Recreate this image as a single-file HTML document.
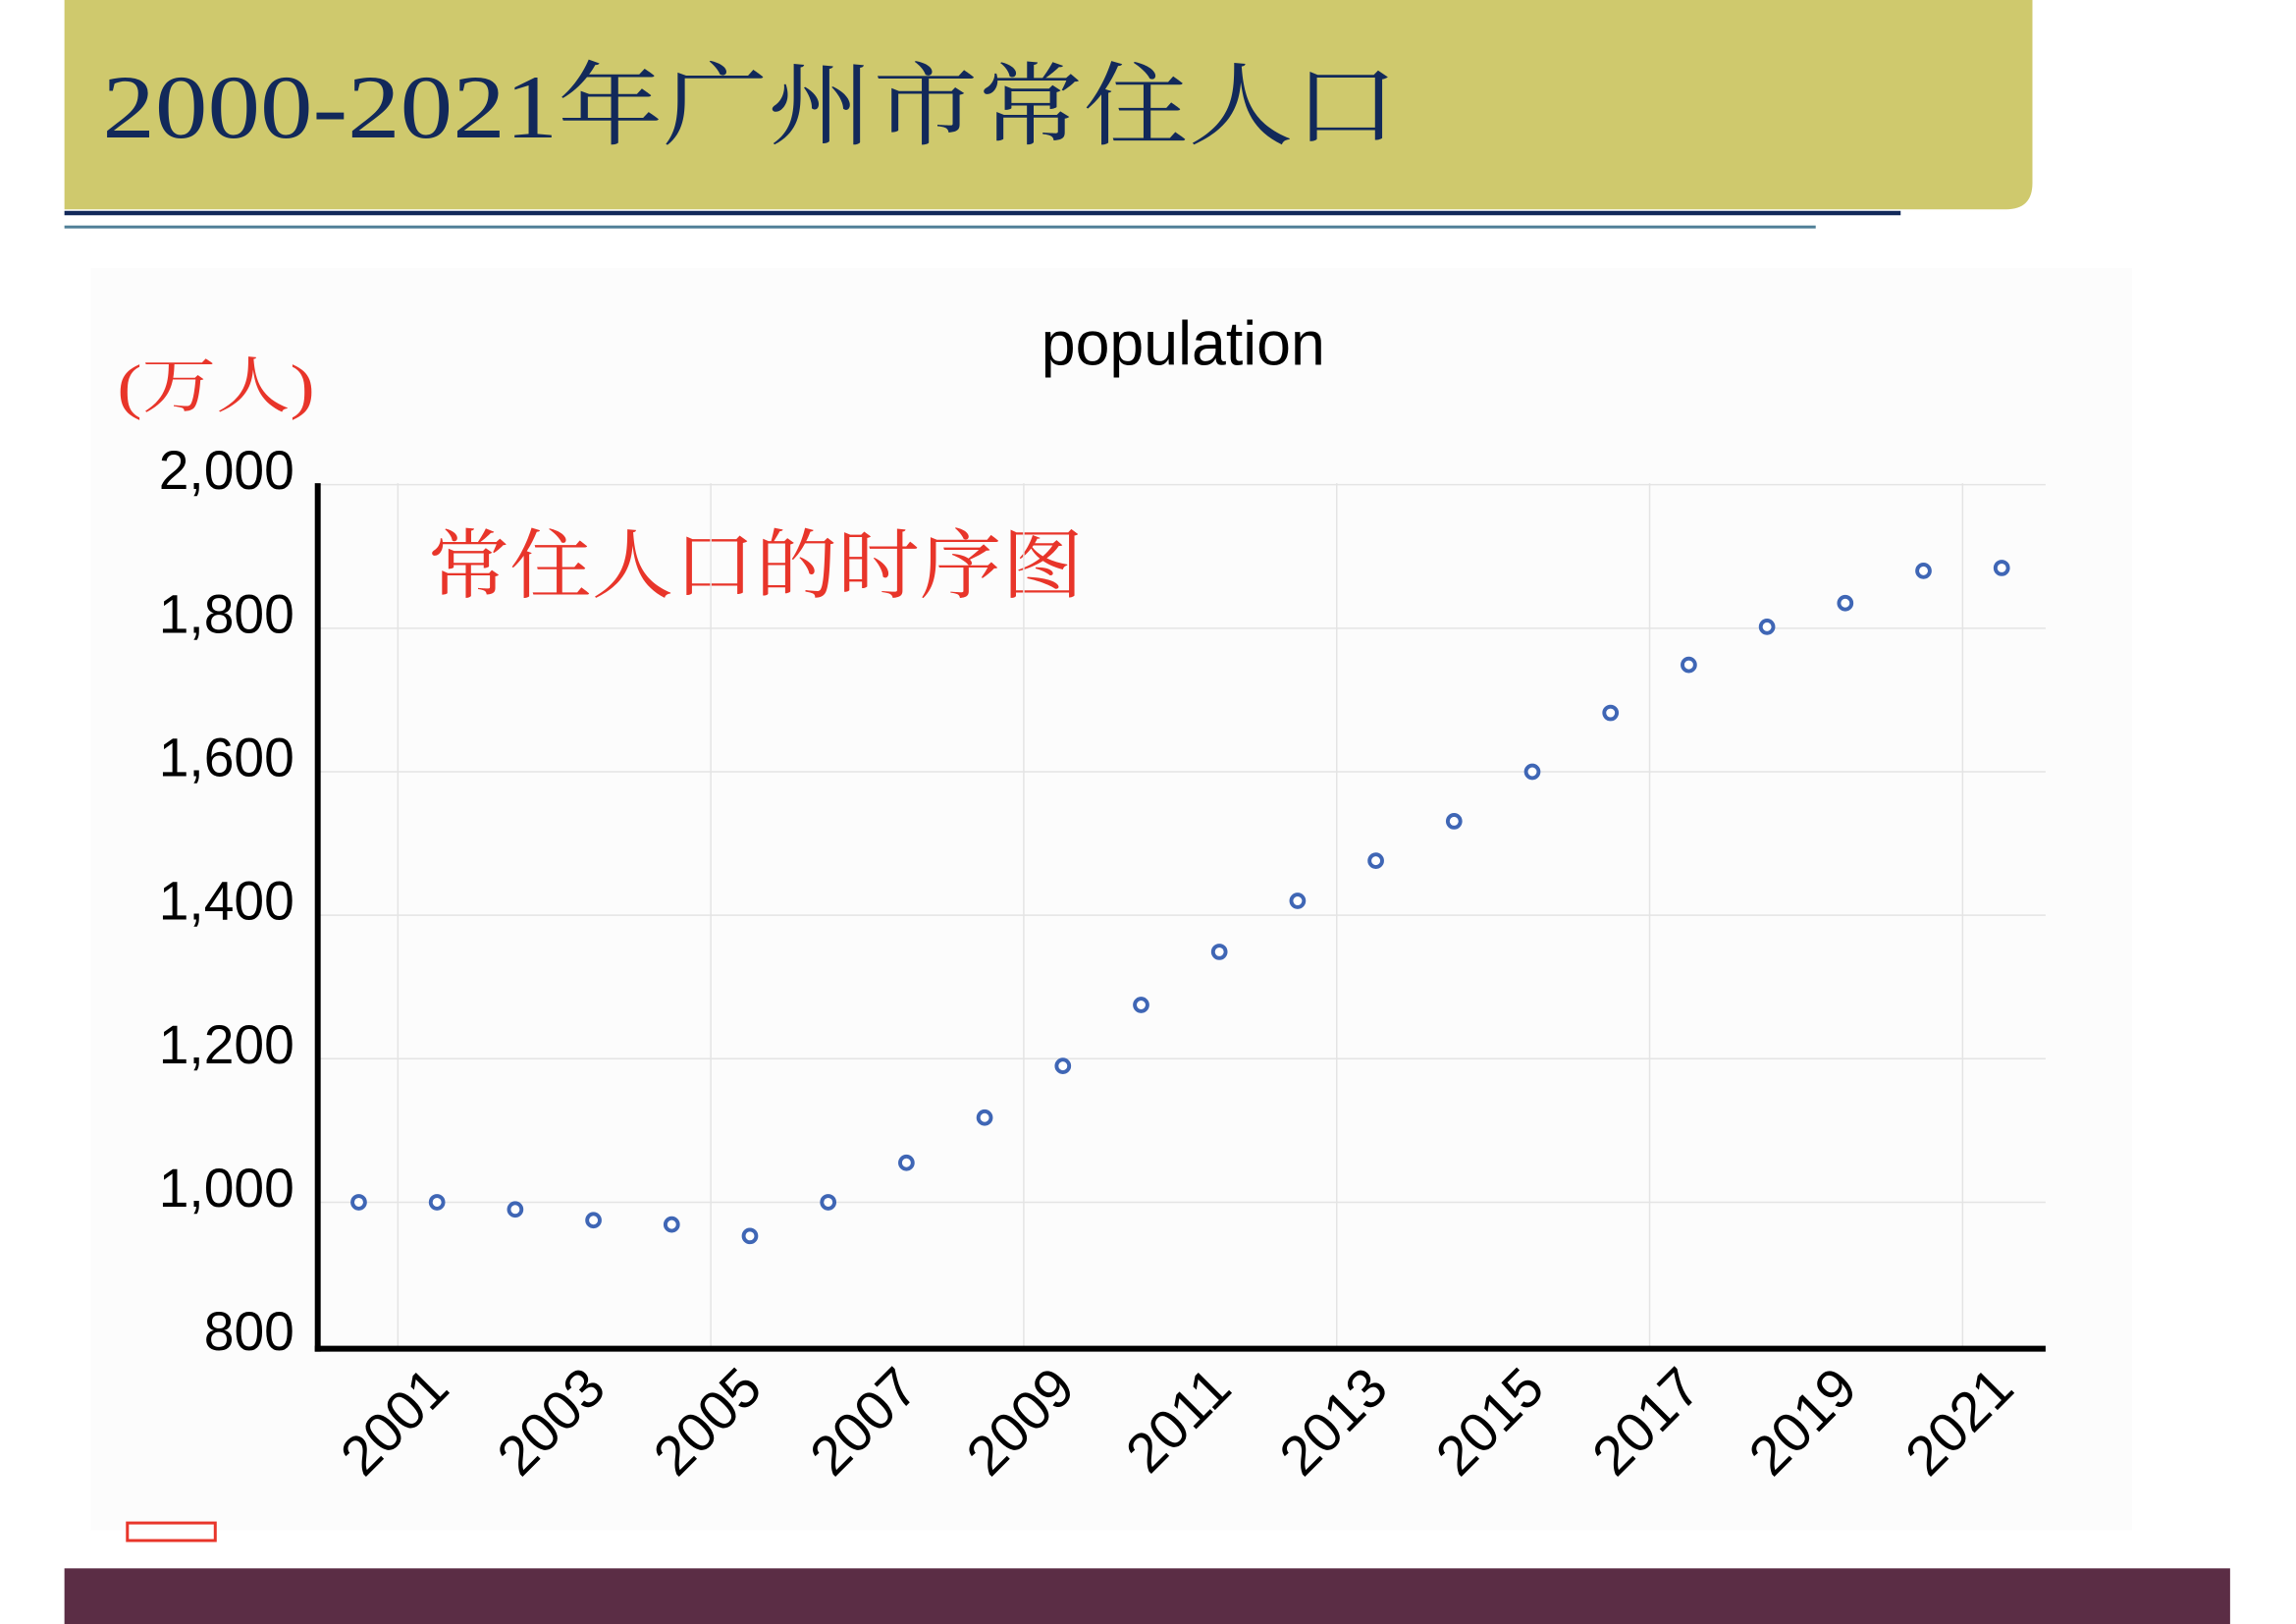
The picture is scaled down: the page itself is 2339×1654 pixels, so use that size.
<!DOCTYPE html>
<html><head><meta charset="utf-8"><style>
html,body{margin:0;padding:0;background:#fff;}
svg{display:block;}
</style></head><body>
<svg width="2339" height="1654" viewBox="0 0 1568 1109" preserveAspectRatio="none" xmlns="http://www.w3.org/2000/svg">
<path d="M44 0 H1388 V125 Q1388 143 1370 143 H44 Z" fill="#CFC96D"/>
<text x="70" y="94" font-family="'Liberation Serif','Noto Serif CJK SC',serif" font-size="62" fill="#12295A" textLength="885" lengthAdjust="spacingAndGlyphs">2000-2021年广州市常住人口</text>
<rect x="44" y="144" width="1254" height="3" fill="#12295A"/>
<rect x="44" y="154" width="1196" height="2" fill="#4F7F97"/>
<rect x="62" y="183" width="1394" height="862" fill="#fcfcfc"/>
<text x="808" y="249" text-anchor="middle" font-family="'Liberation Sans',sans-serif" font-size="42" fill="#000">population</text>
<text x="80" y="278" font-family="'Liberation Serif','Noto Serif CJK SC',serif" font-size="42" fill="#E8352A" textLength="135" lengthAdjust="spacingAndGlyphs">(万人)</text>
<text x="292" y="404" font-family="'Liberation Serif','Noto Serif CJK SC',serif" font-size="52" fill="#E8352A" textLength="448" lengthAdjust="spacingAndGlyphs">常住人口的时序图</text>
<g id="grid"></g>
<g id="axes"></g>
<g id="marks"></g>
<rect x="87" y="1040" width="60" height="12" fill="none" stroke="#E8352A" stroke-width="2"/>
<rect x="44" y="1071" width="1479" height="38" fill="#5B2D45"/>
</svg>
<script>
const years = [2000,2001,2002,2003,2004,2005,2006,2007,2008,2009,2010,2011,2012,2013,2014,2015,2016,2017,2018,2019,2020,2021];
const population = [1000,1000,990,975,969,953,1000,1055,1118,1190,1275,1349,1420,1476,1531,1600,1682,1749,1802,1835,1880,1884];
const yTicks = [800,1000,1200,1400,1600,1800,2000];
const yTickLabels = ["800","1,000","1,200","1,400","1,600","1,800","2,000"];
const xTickYears = [2001,2003,2005,2007,2009,2011,2013,2015,2017,2019,2021];

const NS = "http://www.w3.org/2000/svg";
const y = v => 919 - (v - 800) / 200 * 98;
const x = yr => 245 + (yr - 2000) * 53.43;
function mk(tag, attrs, parent){const e=document.createElementNS(NS,tag);for(const k in attrs)e.setAttribute(k,attrs[k]);parent.appendChild(e);return e;}
const grid=document.getElementById('grid'), axes=document.getElementById('axes'), marks=document.getElementById('marks');

yTicks.forEach((v,i)=>{
  if(v>800){const l=mk('line',{x1:217,x2:1397,y1:y(v),y2:y(v),stroke:'#e4e4e4','stroke-width':1},grid);
  
  }
  const t=mk('text',{x:201,y:y(v)+3,'text-anchor':'end','font-family':"'Liberation Sans',sans-serif",'font-size':37,fill:'#000'},axes);
  t.textContent=yTickLabels[i];
  
  
});
for(let yr=2000.5;yr<=2022;yr+=4){
  const l=mk('line',{x1:x(yr),x2:x(yr),y1:330,y2:921,stroke:'#e4e4e4','stroke-width':1},grid);
  
  
}
const ya=mk('line',{x1:217,x2:217,y1:330,y2:923,stroke:'#000','stroke-width':4},axes);


const xa=mk('line',{x1:215,x2:1397,y1:921,y2:921,stroke:'#000','stroke-width':4},axes);


xTickYears.forEach(yr=>{
  const px=x(yr)+10, py=950;
  const t=mk('text',{x:px,y:py,'text-anchor':'end','font-family':"'Liberation Sans',sans-serif",'font-size':38,fill:'#000',transform:`rotate(-45 ${px} ${py})`},axes);
  t.textContent=String(yr);
  
  
});
years.forEach((yr,i)=>{
  const c=mk('circle',{cx:x(yr),cy:y(population[i]),r:4.3,fill:'#fff',stroke:'#3F66B5','stroke-width':2.6},marks);
  
  
});
</script>
</body></html>
